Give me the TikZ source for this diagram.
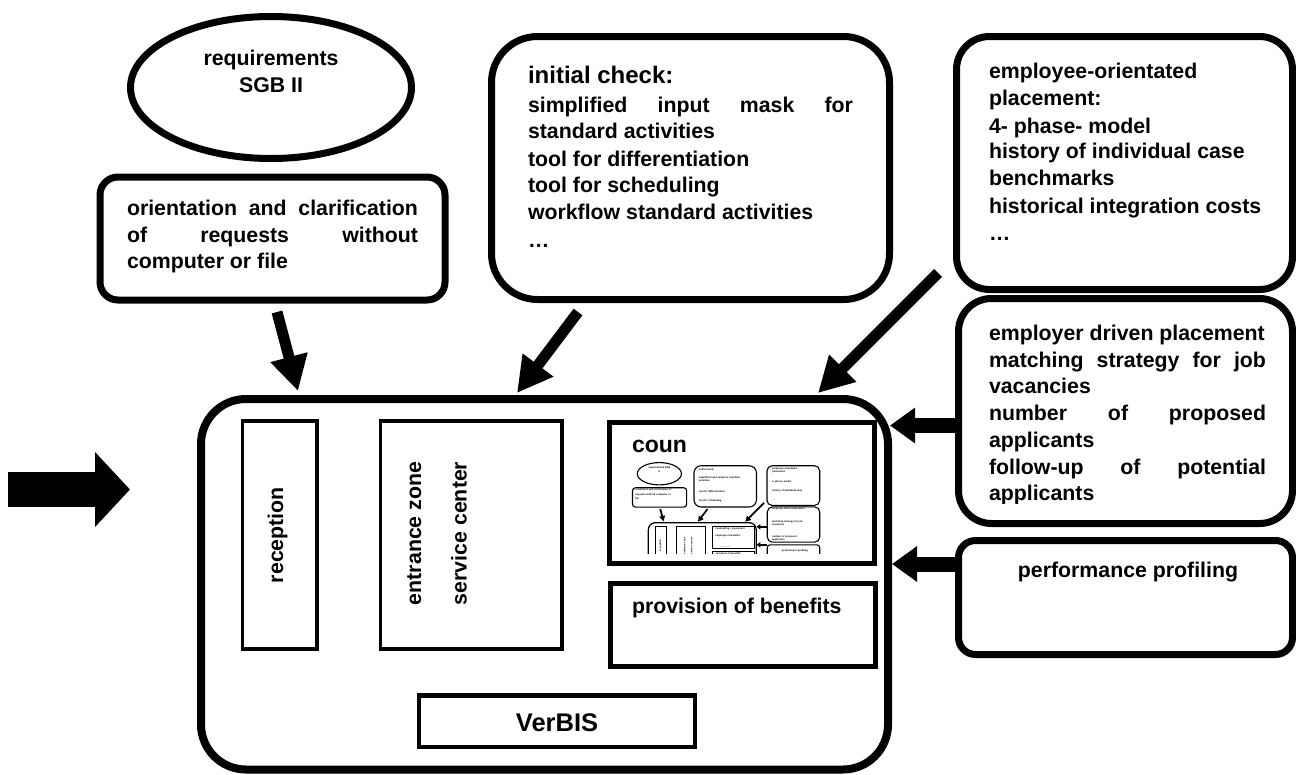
\documentclass[tikz,border=0pt]{standalone}
\usepackage{fontspec}
\setmainfont{Liberation Sans}
\usetikzlibrary{arrows.meta,shapes.geometric}
\newcommand\mf{\fontsize{21.3}{26.7}\selectfont\bfseries}
\newcommand\mnf{\fontsize{16}{18}\selectfont\bfseries}
\tikzset{
  heavy/.style={draw, line width=7pt, inner sep=0pt, rectangle},
  light/.style={draw, line width=4pt, inner sep=0pt, rectangle},
  mid/.style={draw, line width=5pt, inner sep=0pt, rectangle},
  txt/.style={inner sep=0pt, outer sep=0pt, font=\mf},
  lt/.style={txt, anchor=base west},
  mt/.style={inner sep=0pt, outer sep=0pt, font=\mnf, anchor=base west},
  fat/.style={line width=11pt, -{Triangle[length=35pt,width=36pt]}},
  side/.style={line width=15pt, -{Triangle[length=25pt,width=34pt]}},
  big/.style={line width=35pt, -{Triangle[length=35pt,width=73pt]}},
}
\begin{document}
\begin{tikzpicture}[x=1pt,y=-1pt]
\useasboundingbox (0,0) rectangle (1296,774);
\fill[white] (0,0) rectangle (1296,774);

% ---------- requirements ellipse
\node[ellipse, draw, line width=7pt, minimum width=281pt, minimum height=142pt, inner sep=0pt] (req) at (271,87.5) {};
\node[txt, anchor=base] (reqa) at (271,65) {requirements};
\node[txt, anchor=base] (reqb) at (271,92) {SGB II};

% ---------- orientation box
\node[heavy, rounded corners=18pt, minimum width=345pt, minimum height=123pt] (orient) at (272.5,238.5) {};
\node[lt] (o1) at (127,215) {\makebox[291pt][s]{orientation and clarification}};
\node[lt] (o2) at (127,242) {\makebox[291pt][s]{of requests without}};
\node[lt] (o3) at (127,268) {computer or file};

% ---------- initial check box
\node[heavy, rounded corners=46pt, minimum width=398pt, minimum height=263pt] (init) at (690.5,168) {};
\node[lt, font=\fontsize{24}{28}\selectfont\bfseries] (i0) at (528,83) {initial check:};
\node[lt] (i1) at (528,112) {\makebox[325pt][s]{simplified input mask for}};
\node[lt] (i2) at (528,138) {standard activities};
\node[lt] (i3) at (528,166) {tool for differentiation};
\node[lt] (i4) at (528,192) {tool for scheduling};
\node[lt] (i5) at (528,219) {workflow standard activities};
\node[lt] (i6) at (528,247) {…};

% ---------- employee-orientated box
\node[heavy, rounded corners=33pt, minimum width=336pt, minimum height=253pt] (empl) at (1124.5,163) {};
\node[lt] (e1) at (989,78) {employee-orientated};
\node[lt] (e2) at (989,105) {placement:};
\node[lt] (e3) at (989,133) {4- phase- model};
\node[lt] (e4) at (989,158) {history of individual case};
\node[lt] (e5) at (989,185) {benchmarks};
\node[lt] (e6) at (989,213) {historical integration costs};
\node[lt] (e7) at (989,240) {…};

% ---------- employer driven box
\node[heavy, rounded corners=33pt, minimum width=334pt, minimum height=225pt] (emplr) at (1125.5,411) {};
\begin{scope}
\clip (960,300) rectangle (1290,503);
\node[lt] (r1) at (989,340) {employer driven placement};
\node[lt] (r2) at (989,367) {\makebox[277pt][s]{matching strategy for job}};
\node[lt] (r3) at (989,393) {vacancies};
\node[lt] (r4) at (989,420) {\makebox[277pt][s]{number of proposed}};
\node[lt] (r5) at (989,447) {applicants};
\node[lt] (r6) at (989,474) {\makebox[277pt][s]{follow-up of potential}};
\node[lt] (r7) at (989,500) {applicants};
\end{scope}

% ---------- performance profiling box
\node[heavy, rounded corners=17pt, minimum width=334pt, minimum height=114pt] (perf) at (1125.5,597.5) {};
\node[txt, anchor=base] (p1) at (1128,577) {performance profiling};

% ---------- main box
\node[heavy, line width=8pt, rounded corners=45pt, minimum width=687pt, minimum height=370.5pt] (main) at (544.5,584.25) {};
\node[light, line width=3.5pt, minimum width=74.5pt, minimum height=228pt] (recep) at (279.75,535) {};
\node[lt, rotate=90] (rt) at (283,583) {reception};
\node[light, line width=3.5pt, minimum width=181.5pt, minimum height=228pt] (entr) at (471.25,535) {};
\node[lt, rotate=90] (et1) at (421,605) {entrance zone};
\node[lt, rotate=90] (et2) at (466.5,605) {service center};
\node[mid, minimum width=264.5pt, minimum height=140.5pt] (coun) at (741.75,492.75) {};
\node[lt, font=\fontsize{23}{27}\selectfont\bfseries] (ct) at (632,452) {coun};
\node[mid, minimum width=265pt, minimum height=83pt] (prov) at (743,625) {};
\node[lt] (pt) at (632,613) {provision of benefits};
\node[light, line width=4.5pt, minimum width=276pt, minimum height=51.5pt] (verbis) at (557,721.25) {};
\node[txt, anchor=base, font=\fontsize{25.5}{30}\selectfont\bfseries] (vt) at (557,731) {VerBIS};

% ---------- arrows
\coordinate (a1s) at (277,312); \coordinate (a1e) at (298,391);
\coordinate (a2s) at (578,312); \coordinate (a2e) at (517,393);
\coordinate (a3s) at (938,273); \coordinate (a3e) at (818,393);
\coordinate (a4e) at (890,425.5);
\coordinate (a5e) at (892,564);
\coordinate (a6s) at (8,489.5); \coordinate (a6e) at (130,489.5);
\draw[fat] (a1s) -- (a1e);
\draw[fat] (a2s) -- (a2e);
\draw[fat] (a3s) -- (a3e);
\draw[side] (emplr.west |- a4e) -- (a4e);
\draw[side] (perf.west |- a5e) -- (a5e);
\draw[big] (a6s) -- (a6e);

% ---------- miniature of the diagram inside "coun"
\begin{scope}
\clip (613,425) rectangle (872,553);
\begin{scope}[transform canvas={shift={(616.8,460)}, scale=0.157}]
\node[ellipse, draw, line width=7pt, minimum width=281pt, minimum height=142pt, inner sep=0pt] (mreq) at (271,87.5) {};
\node[mt, anchor=base] (mreqa) at (271,55) {requirements SGB};
\node[mt, anchor=base] (mreqb) at (271,80) {II};
\node[heavy, rounded corners=18pt, minimum width=345pt, minimum height=123pt] (morient) at (272.5,238.5) {};
\node[mt] (mo1) at (118,196) {orientation and clarification of};
\node[mt] (mo2) at (118,226) {requests without computer or};
\node[mt] (mo3) at (118,252) {file};
\node[heavy, rounded corners=46pt, minimum width=398pt, minimum height=263pt] (minit) at (690.5,168) {};
\node[mt] (mi0) at (523,68) {initial check:};
\node[mt] (mi1) at (523,118) {simplified input mask for standard};
\node[mt] (mi2) at (523,138) {activities};
\node[mt] (mi3) at (523,208) {tool for differentiation};
\node[mt] (mi4) at (523,264) {tool for scheduling};
\node[heavy, rounded corners=33pt, minimum width=336pt, minimum height=253pt] (mempl) at (1124.5,163) {};
\node[mt] (me1) at (990,60) {employee-orientated};
\node[mt] (me2) at (990,80) {placement:};
\node[mt] (me3) at (990,143) {4- phase- model};
\node[mt] (me4) at (990,200) {history of individual case};
\node[mt] (me5) at (990,258) {…};
\node[heavy, rounded corners=33pt, minimum width=334pt, minimum height=225pt] (memplr) at (1125.5,411) {};
\node[mt] (mr1) at (990,315) {employer driven placement};
\node[mt] (mr2) at (990,398) {matching strategy for job};
\node[mt] (mr3) at (990,420) {vacancies};
\node[mt] (mr4) at (990,492) {number of proposed};
\node[mt] (mr5) at (990,514) {applicants};
\node[heavy, rounded corners=17pt, minimum width=334pt, minimum height=114pt] (mperf) at (1125.5,597.5) {};
\node[mt, anchor=base] (mp1) at (1134,583) {performance profiling};
\node[heavy, line width=8pt, rounded corners=45pt, minimum width=687pt, minimum height=370.5pt] (mmain) at (544.5,584.25) {};
\node[light, line width=3.5pt, minimum width=74.5pt, minimum height=228pt] (mrecep) at (279.75,535) {};
\node[mt, rotate=90] (mrt) at (283,580) {reception};
\node[light, line width=3.5pt, minimum width=181.5pt, minimum height=228pt] (mentr) at (471.25,535) {};
\node[mt, rotate=90] (met1) at (437,600) {entrance zone};
\node[mt, rotate=90] (met2) at (482,600) {service center};
\node[mid, minimum width=264.5pt, minimum height=140.5pt] (mcoun) at (741.75,492.75) {};
\node[mt] (mc1) at (628,440) {counselling + placement};
\node[mt] (mc2) at (628,490) {employee orientated};
\node[mt] (mc3) at (660,558) {…………};
\node[mid, minimum width=265pt, minimum height=83pt] (mprov) at (743,625) {};
\node[mt] (mpt) at (632,600) {provision of benefits};
\coordinate (ma1s) at (277,312); \coordinate (ma1e) at (298,391);
\coordinate (ma2s) at (578,312); \coordinate (ma2e) at (517,393);
\coordinate (ma3s) at (938,273); \coordinate (ma3e) at (818,393);
\coordinate (ma4e) at (890,425.5);
\coordinate (ma5e) at (890,540);
\draw[fat] (ma1s) -- (ma1e);
\draw[fat] (ma2s) -- (ma2e);
\draw[fat] (ma3s) -- (ma3e);
\draw[side] (memplr.west |- ma4e) -- (ma4e);
\draw[side] (mperf.west |- ma5e) -- (ma5e);
\end{scope}
\end{scope}
\end{tikzpicture}
\end{document}
